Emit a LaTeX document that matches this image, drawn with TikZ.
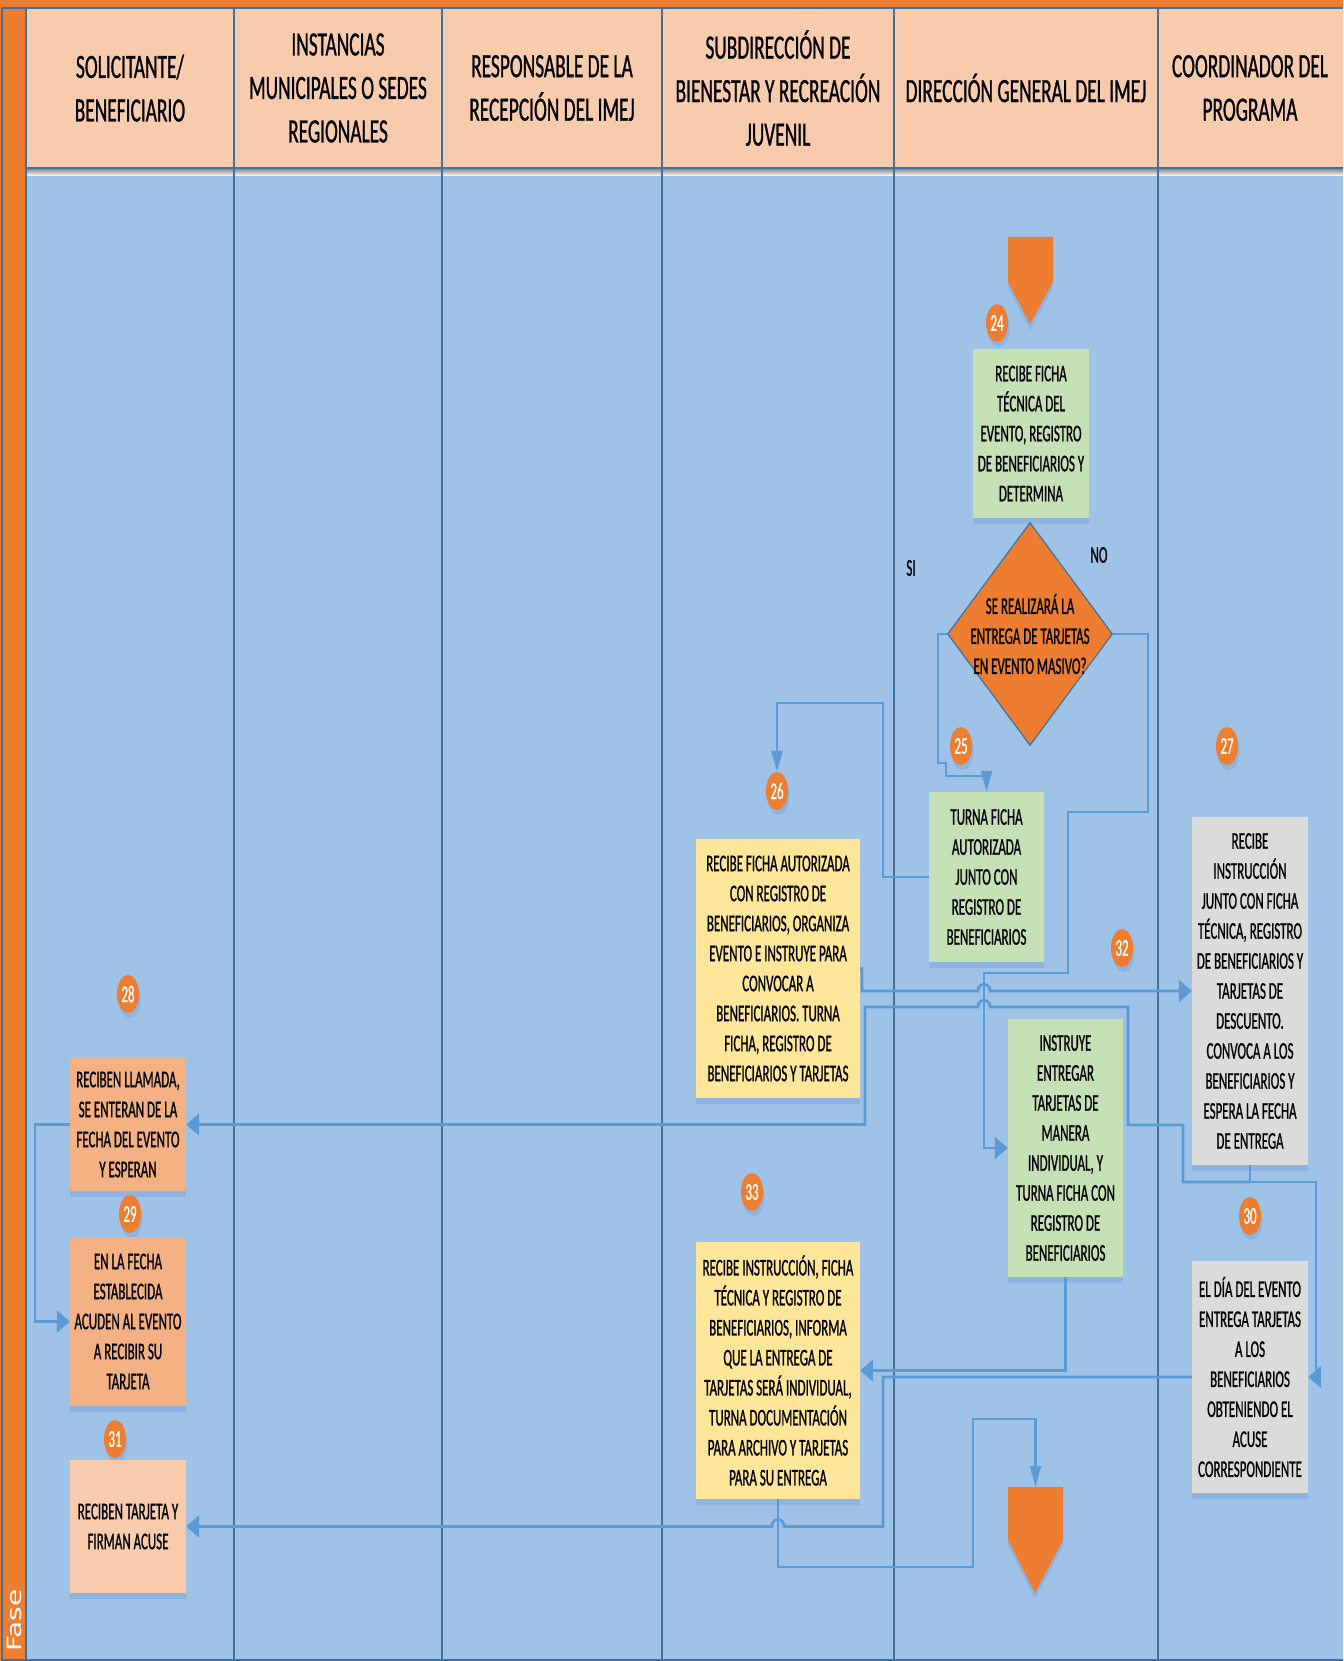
\documentclass[tikz,border=0pt]{standalone}
\usepackage{fontspec}
\setmainfont{Carlito}
\newfontfamily\boxfont{Carlito}[FakeStretch=0.54,FakeBold=0.8]
\newfontfamily\headfont{Carlito}[FakeStretch=0.57,FakeBold=0.8]
\newfontfamily\fasefont{DejaVu Sans}
\usepackage{graphicx}
\usetikzlibrary{shapes.geometric,arrows.meta}

\definecolor{lanebg}{HTML}{9FC3E6}
\definecolor{headbg}{HTML}{F8CBAD}
\definecolor{orng}{HTML}{ED7D31}
\definecolor{laneline}{HTML}{41719C}
\definecolor{flow}{HTML}{5B9BD5}
\definecolor{greenbox}{HTML}{C5E0B4}
\definecolor{yellowbox}{HTML}{FFE699}
\definecolor{greybox}{HTML}{DBDBDB}
\definecolor{salmonbox}{HTML}{F4B183}
\definecolor{shade}{HTML}{8DB4E2}

\begin{document}
\begin{tikzpicture}[x=1pt,y=-1pt,
	task/.style={rectangle,inner sep=0pt,align=center,
		font=\boxfont\fontsize{24}{30}\selectfont,
		preaction={fill=shade,transform canvas={yshift=-6pt}}},
	num/.style={ellipse,fill=orng,minimum width=22pt,minimum height=38pt,inner sep=0pt,
		text=white,font=\boxfont\fontsize{24}{24}\selectfont,
		preaction={fill=shade,transform canvas={xshift=1.5pt,yshift=-5pt}}},
	head/.style={align=center,font=\headfont\fontsize{34}{43.5}\selectfont},
	decision/.style={diamond,fill=orng,draw=laneline,line width=1.2pt,
		minimum width=165pt,minimum height=223pt,inner sep=0pt},
	flowline/.style={draw=flow,line width=2.6pt},
	harrow/.style={-{Triangle[length=13pt,width=22pt]}},
	varrow/.style={-{Triangle[length=21pt,width=11pt]}}]
		\useasboundingbox (0,0) rectangle (1343,1661);
		% frame and lanes
		\fill[orng] (0,0) rectangle (1343,8);
		\fill[orng] (0,0) rectangle (26,1661);
		\fill[headbg] (26,8) rectangle (1343,168);
		\fill[lanebg] (26,168) rectangle (1343,1661);
		\fill[shade] (26,168) rectangle (1343,176);
		\draw[laneline,line width=1.5pt] (2,8) -- (1343,8);
		\draw[laneline,line width=1.5pt] (2,8) -- (2,1660) -- (1343,1660);
		\draw[laneline,line width=1.5pt] (26,8) -- (26,1660);
		\draw[laneline,line width=1.2pt] (26,168) -- (1343,168);
		\draw[laneline,line width=1.5pt] (234,8) -- (234,1660);
		\draw[laneline,line width=1.5pt] (442,8) -- (442,1660);
		\draw[laneline,line width=1.5pt] (662,8) -- (662,1660);
		\draw[laneline,line width=1.5pt] (894,8) -- (894,1660);
		\draw[laneline,line width=1.5pt] (1158,8) -- (1158,1660);
		\node[rotate=90,anchor=west,inner sep=0pt,text=white,font=\fasefont\fontsize{28}{28}\selectfont] (fase) at (14,1652) {\scalebox{1}[0.7]{Fase}};

		% headers
		\node[head] (h1) at (130,88) {SOLICITANTE/\\BENEFICIARIO};
		\node[head] (h2) at (338,88) {INSTANCIAS\\MUNICIPALES O SEDES\\REGIONALES};
		\node[head] (h3) at (552,88) {RESPONSABLE DE LA\\RECEPCIÓN DEL IMEJ};
		\node[head] (h4) at (778,88) {SUBDIRECCIÓN DE\\BIENESTAR Y RECREACIÓN\\JUVENIL};
		\node[head] (h5) at (1026,88) {DIRECCIÓN GENERAL DEL IMEJ};
		\node[head] (h6) at (1250,88) {COORDINADOR DEL\\PROGRAMA};

		% off-page connectors
		\fill[orng,preaction={fill=shade,transform canvas={yshift=-6pt}}] (1008,237) -- (1053,237) -- (1053,282) -- (1030,324) -- (1008,282) -- cycle;
		\fill[orng,preaction={fill=shade,transform canvas={yshift=-6pt}}] (1008,1487) -- (1063,1487) -- (1063,1540) -- (1035,1593) -- (1008,1540) -- cycle;
		\coordinate (fin) at (1035.5,1487);

		% steps
		\node[num] (n24) at (997,323) {24};
		\node[task,fill=greenbox,minimum width=116pt,minimum height=169pt] (b24) at (1031,433.5) {RECIBE FICHA\\TÉCNICA DEL\\EVENTO, REGISTRO\\DE BENEFICIARIOS Y\\DETERMINA};
		\node[decision] (d) at (1030,634) {};
		\node[align=center,inner sep=0pt,font=\boxfont\fontsize{24}{30}\selectfont] (dq) at (d.center) {SE REALIZARÁ LA\\ENTREGA DE TARJETAS\\EN EVENTO MASIVO?};
		\node[font=\boxfont\fontsize{24}{30}\selectfont] (si) at (911,568) {SI};
		\node[font=\boxfont\fontsize{24}{30}\selectfont] (no) at (1099,555) {NO};

		\node[num] (n25) at (961,746) {25};
		\node[task,fill=greenbox,minimum width=115pt,minimum height=170pt] (b25) at (986.5,877) {TURNA FICHA\\AUTORIZADA\\JUNTO CON\\REGISTRO DE\\BENEFICIARIOS};

		\node[num] (n26) at (777,791) {26};
		\node[task,fill=yellowbox,minimum width=164pt,minimum height=259pt] (b26) at (778,968.5) {RECIBE FICHA AUTORIZADA\\CON REGISTRO DE\\BENEFICIARIOS, ORGANIZA\\EVENTO E INSTRUYE PARA\\CONVOCAR A\\BENEFICIARIOS. TURNA\\FICHA, REGISTRO DE\\BENEFICIARIOS Y TARJETAS};

		\node[num] (n27) at (1227,746) {27};
		\node[task,fill=greybox,minimum width=116pt,minimum height=348pt] (b27) at (1250,991) {RECIBE\\INSTRUCCIÓN\\JUNTO CON FICHA\\TÉCNICA, REGISTRO\\DE BENEFICIARIOS Y\\TARJETAS DE\\DESCUENTO.\\CONVOCA A LOS\\BENEFICIARIOS Y\\ESPERA LA FECHA\\DE ENTREGA};

		\node[num] (n32) at (1122,948) {32};
		\node[task,fill=greenbox,minimum width=115pt,minimum height=258pt] (b32) at (1065.5,1148) {INSTRUYE\\ENTREGAR\\TARJETAS DE\\MANERA\\INDIVIDUAL, Y\\TURNA FICHA CON\\REGISTRO DE\\BENEFICIARIOS};

		\node[num] (n28) at (128,994) {28};
		\node[task,fill=salmonbox,minimum width=116pt,minimum height=133pt] (b28) at (128,1124.5) {RECIBEN LLAMADA,\\SE ENTERAN DE LA\\FECHA DEL EVENTO\\Y ESPERAN};

		\node[num] (n29) at (130,1214) {29};
		\node[task,fill=salmonbox,minimum width=116pt,minimum height=169pt] (b29) at (128,1321.5) {EN LA FECHA\\ESTABLECIDA\\ACUDEN AL EVENTO\\A RECIBIR SU\\TARJETA};

		\node[num] (n31) at (115,1439) {31};
		\node[task,fill=headbg,minimum width=116pt,minimum height=133pt] (b31) at (128,1526.5) {RECIBEN TARJETA Y\\FIRMAN ACUSE};

		\node[num] (n33) at (752,1192) {33};
		\node[task,fill=yellowbox,minimum width=164pt,minimum height=257pt] (b33) at (778,1370.5) {RECIBE INSTRUCCIÓN, FICHA\\TÉCNICA Y REGISTRO DE\\BENEFICIARIOS, INFORMA\\QUE LA ENTREGA DE\\TARJETAS SERÁ INDIVIDUAL,\\TURNA DOCUMENTACIÓN\\PARA ARCHIVO Y TARJETAS\\PARA SU ENTREGA};

		\node[num] (n30) at (1250,1216) {30};
		\node[task,fill=greybox,minimum width=116pt,minimum height=232pt] (b30) at (1250,1377) {EL DÍA DEL EVENTO\\ENTREGA TARJETAS\\A LOS\\BENEFICIARIOS\\OBTENIENDO EL\\ACUSE\\CORRESPONDIENTE};

		% connectors
		\draw[flowline,varrow] (d.west) -- (938,634) -- (938,763) -- (946,763) -- (946,776) -| (b25.north);
		\draw[flowline,varrow] (b25.west) -- (883,877) -- (883,703) -| (n26.north);
		\draw[flowline,harrow] (d.east) -- (1148,634) -- (1148,812) -- (1068,812) -- (1068,973) -- (984,973) |- (b32.west);
		\draw[flowline,harrow] (b26.east) -- (862,968.5) -- (862,991) -- (978,991) .. controls (978,982) and (990,982) .. (990,991) -- (b27.west);
		\coordinate (j27) at (1250,1182);
		\draw[flowline] (b27.south) -- (j27);
		\draw[flowline,harrow] (j27) -- (1316,1182) |- (b30.east);
		\draw[flowline,harrow] (j27) -- (1183,1182) -- (1183,1125) -- (1128,1125) -- (1128,1007) -- (990,1007) .. controls (990,998) and (978,998) .. (978,1007) -- (865,1007) |- (b28.east);
		\draw[flowline,harrow] (b28.west) -- (35,1124.5) |- (b29.west);
		\draw[flowline,harrow] (b32.south) |- (b33.east);
		\draw[flowline,harrow] (b30.west) -- (883,1377) -- (883,1526.5) -- (784,1526.5) .. controls (784,1517) and (772,1517) .. (772,1526.5) -- (b31.east);
		\draw[flowline,varrow] (b33.south) -- (778,1567) -- (973,1567) -- (973,1419) -| (fin);
	\end{tikzpicture}
\end{document}
